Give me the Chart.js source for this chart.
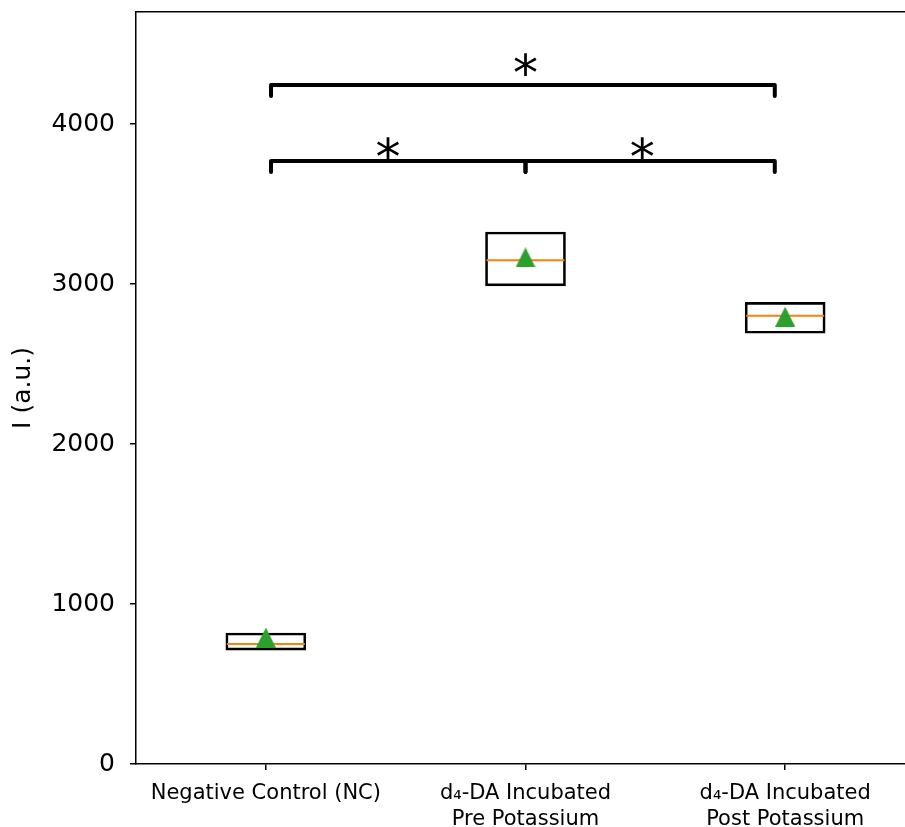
<!DOCTYPE html>
<html>
<head>
<meta charset="utf-8">
<script src="https://cdn.jsdelivr.net/npm/chart.js@4.4.0/dist/chart.umd.min.js"></script>
<style>
body { margin: 0; background: #fff; }
#wrap { width: 905px; height: 827px; overflow: hidden; }
</style>
</head>
<body>
<div id="wrap"><canvas id="boxChart" width="915" height="827"></canvas></div>
<script>
// data
const categories = [['Negative Control (NC)'], ['d\u2084-DA Incubated', 'Pre Potassium'], ['d\u2084-DA Incubated', 'Post Potassium']];
const positions = [1, 2, 3];
const q1Values = [712, 2988, 2692];
const q3Values = [819, 3325, 2885];
const medianValues = [750, 3148, 2802];
const meanValues = [790, 3166, 2796];
const yTicks = [0, 1000, 2000, 3000, 4000];

// significance brackets: [from, to, height]
const brackets = [[1.02, 2.96, 4244], [1.02, 2.0, 3769], [2.0, 2.96, 3769]];
const bracketDrop = 69;
const starX = [2.0, 1.47, 2.45];
const starY = [4369, 3850, 3850];

const FONT = "'DejaVu Sans', sans-serif";

// matplotlib-like '^' marker, centred on its box
const tri = document.createElement('canvas');
tri.width = 20; tri.height = 20;
const tctx = tri.getContext('2d');
tctx.fillStyle = '#2ca02c';
tctx.beginPath();
tctx.moveTo(10, 0);
tctx.lineTo(20, 20);
tctx.lineTo(0, 20);
tctx.closePath();
tctx.fill();

const bracketSets = brackets.map(b => ({
    type: 'line',
    data: [
        {x: b[0], y: b[2] - bracketDrop},
        {x: b[0], y: b[2]},
        {x: b[1], y: b[2]},
        {x: b[1], y: b[2] - bracketDrop}
    ],
    borderColor: '#000',
    borderWidth: 4,
    borderCapStyle: 'round',
    borderJoinStyle: 'round',
    pointRadius: 0,
    fill: false,
    order: 3
}));

const starPlugin = {
    id: 'stars',
    afterDatasetsDraw(chart) {
        const ctx = chart.ctx;
        const xs = chart.scales.x, ys = chart.scales.y;
        ctx.save();
        ctx.fillStyle = '#000';
        ctx.font = '50px ' + FONT;
        ctx.textAlign = 'center';
        ctx.textBaseline = 'alphabetic';
        starX.forEach((sx, i) => {
            const m = ctx.measureText('*');
            const px = xs.getPixelForValue(sx);
            const py = ys.getPixelForValue(starY[i]) + (m.actualBoundingBoxAscent - m.actualBoundingBoxDescent) / 2;
            ctx.fillText('*', px, py);
        });
        ctx.restore();
    }
};

function noPad(s) {
    s.paddingTop = 0; s.paddingBottom = 0;
    s.paddingLeft = 0; s.paddingRight = 0;
}

const ctx = document.getElementById('boxChart').getContext('2d');
const chart = new Chart(ctx, {
    type: 'bar',
    data: {
        datasets: [
            {
                type: 'scatter',
                data: positions.map((p, i) => ({x: p, y: meanValues[i]})),
                pointStyle: tri,
                pointRadius: 10,
                order: 0
            },
            {
                type: 'scatter',
                data: positions.map((p, i) => ({x: p, y: medianValues[i]})),
                pointStyle: 'line',
                pointRadius: 39,
                borderColor: '#ff7f0e',
                borderWidth: 2,
                order: 1
            },
            {
                type: 'bar',
                data: positions.map((p, i) => ({x: p, y: [q1Values[i], q3Values[i]]})),
                backgroundColor: 'rgba(0,0,0,0)',
                borderColor: '#000',
                borderWidth: 2,
                borderSkipped: false,
                barThickness: 80,
                order: 2
            },
            ...bracketSets
        ]
    },
    options: {
        responsive: false,
        animation: false,
        events: [],
        layout: { padding: 0, autoPadding: false },
        plugins: {
            legend: { display: false },
            tooltip: { enabled: false }
        },
        scales: {
            x: {
                type: 'linear',
                position: 'bottom',
                min: 0.5,
                max: 3.5,
                offset: false,
                afterBuildTicks: s => { s.ticks = positions.map(v => ({value: v})); },
                afterFit: s => { s.height = 63; noPad(s); },
                ticks: {
                    autoSkip: false,
                    maxRotation: 0,
                    padding: 10,
                    color: '#000',
                    font: { family: FONT, size: 21, lineHeight: 1.25 },
                    callback: v => categories[positions.indexOf(v)]
                },
                grid: { offset: false, drawOnChartArea: false, drawTicks: true, tickLength: 6, color: '#000', lineWidth: 1.5 },
                border: { display: true, color: '#000', width: 1.5 }
            },
            x2: {
                type: 'linear',
                position: 'top',
                min: 0.5,
                max: 3.5,
                afterFit: s => { s.height = 12; noPad(s); },
                ticks: { display: false },
                grid: { offset: false, drawOnChartArea: false, drawTicks: false },
                border: { display: true, color: '#000', width: 1.5 }
            },
            y: {
                type: 'linear',
                min: 0,
                max: 4700,
                afterBuildTicks: s => { s.ticks = yTicks.map(v => ({value: v})); },
                afterFit: s => { s.width = 136; noPad(s); },
                ticks: {
                    padding: 15,
                    color: '#000',
                    font: { family: FONT, size: 25 },
                    callback: v => String(v)
                },
                title: {
                    display: true,
                    text: 'I (a.u.)',
                    color: '#000',
                    padding: { top: 8, bottom: 0 },
                    font: { family: FONT, size: 25 }
                },
                grid: { drawOnChartArea: false, drawTicks: true, tickLength: 6, color: '#000', lineWidth: 1.5 },
                border: { display: true, color: '#000', width: 1.5 }
            }
        }
    },
    plugins: [starPlugin]
});
</script>
</body>
</html>
